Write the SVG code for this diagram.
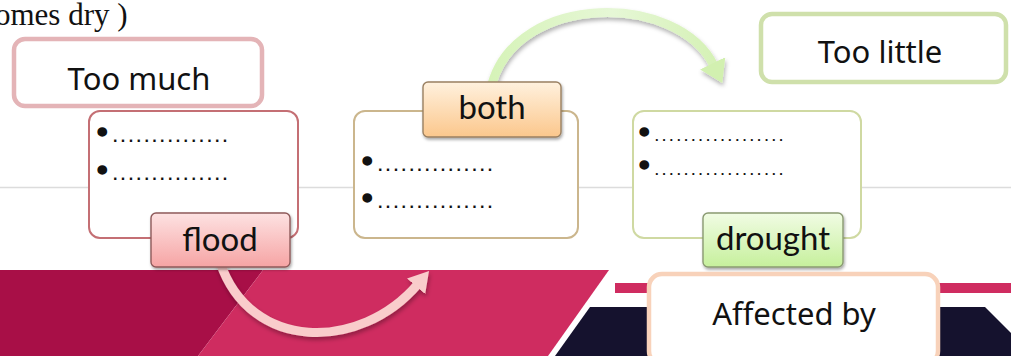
<svg xmlns="http://www.w3.org/2000/svg" width="1011" height="356" viewBox="0 0 1011 356">
<style>
.big{font-family:"Comic Sans MS","Noto Sans","DejaVu Sans",sans-serif;font-size:31px;fill:#111;text-anchor:middle}
.lab{font-family:Lato,"Open Sans","Liberation Sans",sans-serif;font-size:33px;fill:#111;text-anchor:middle}
.line{font-family:"Liberation Sans",Arial,sans-serif;fill:#111;font-size:16px}
.bul{font-size:30px;stroke:#111;stroke-width:1.6px}
.dots{font-size:16px;font-weight:bold;letter-spacing:3.4px}
.dots2{font-size:13px;font-weight:bold;letter-spacing:3.7px}
.card{fill:#fff;stroke-width:2}
.tag{stroke-width:1.4;filter:url(#sh)}
.title{fill:#fff;stroke-width:4.5}
</style>
<defs>
<filter id="sh" x="-20%" y="-20%" width="140%" height="160%"><feDropShadow dx="1" dy="2" stdDeviation="1.5" flood-color="#000" flood-opacity="0.35"/></filter>
<filter id="ash" x="-20%" y="-20%" width="140%" height="140%"><feDropShadow dx="1" dy="3" stdDeviation="2" flood-color="#000" flood-opacity="0.3"/></filter>
<linearGradient id="gFlood" x1="0" y1="0" x2="0" y2="1"><stop offset="0" stop-color="#fde2e2"/><stop offset="1" stop-color="#f6a4a4"/></linearGradient>
<linearGradient id="gBoth" x1="0" y1="0" x2="0" y2="1"><stop offset="0" stop-color="#fff1de"/><stop offset="1" stop-color="#fbc78c"/></linearGradient>
<linearGradient id="gDrought" x1="0" y1="0" x2="0" y2="1"><stop offset="0" stop-color="#f1fce4"/><stop offset="1" stop-color="#c6f09c"/></linearGradient>
<linearGradient id="gGreen" gradientUnits="userSpaceOnUse" x1="490" y1="0" x2="735" y2="0"><stop offset="0" stop-color="#d6f3b8"/><stop offset="0.5" stop-color="#e6f7d6"/><stop offset="1" stop-color="#d2f0b0"/></linearGradient>
<marker id="mGreen" markerUnits="userSpaceOnUse" viewBox="0 0 22 28" markerWidth="22" markerHeight="28" refX="3" refY="14" orient="auto"><path d="M0,0 L22,14 L0,28 z" fill="#d2f0b0"/></marker>
<marker id="mPink" markerUnits="userSpaceOnUse" viewBox="0 0 20 24" markerWidth="20" markerHeight="24" refX="3" refY="12" orient="auto"><path d="M0,0 L20,12 L0,24 z" fill="#f9cccb"/></marker>
</defs>
<rect width="1011" height="356" fill="#fff"/>
<line x1="0" y1="187.5" x2="1011" y2="187.5" stroke="#dcdcdc" stroke-width="1.5"/>
<g id="background-band">
<polygon points="0,270 263,270 198,356 0,356" fill="#a80f47"/>
<polygon points="263,270 609,270 548,356 198,356" fill="#cf2c60"/>
<polygon points="590,307 985,307 1011,333 1011,356 555,356" fill="#15122e"/>
<rect x="615" y="283" width="396" height="10" fill="#cf2c60"/>
</g>
<text x="-5" y="25" font-family="Liberation Serif,'Times New Roman',serif" font-size="31" fill="#111">omes dry )</text>
<g id="connectors">
<path d="M492,84 C518,-8 678,-8 714,66" fill="none" stroke="url(#gGreen)" stroke-width="9" marker-end="url(#mGreen)" filter="url(#ash)"/>
<path d="M220,262 C250,352 360,352 418,284" fill="none" stroke="#f9cccb" stroke-width="9" marker-end="url(#mPink)" filter="url(#ash)"/>
</g>
<g id="node-too-much">
<rect class="title" x="14" y="39" width="248" height="67" rx="11" stroke="#e4b4b7"/>
<text class="big" x="139" y="90">Too much</text>
</g>
<g id="node-too-little">
<rect class="title" x="761" y="14" width="245" height="68" rx="11" stroke="#cfe0ab"/>
<text class="big" x="880" y="63">Too little</text>
</g>
<g id="node-flood">
<rect class="card" x="89" y="111" width="209" height="127" rx="11" stroke="#c46f74"/>
<text class="line"><tspan class="bul" x="97" y="142">•</tspan><tspan class="dots" x="113" y="142">...............</tspan><tspan class="bul" x="97" y="180">•</tspan><tspan class="dots" x="113" y="180">...............</tspan></text>
<rect class="tag" x="151" y="213" width="139" height="54" rx="5" fill="url(#gFlood)" stroke="#8e5a5a"/>
<text class="lab" x="220" y="251">flood</text>
</g>
<g id="node-both">
<rect class="card" x="354" y="111" width="224" height="127" rx="11" stroke="#cbb68d"/>
<text class="line"><tspan class="bul" x="362" y="171">•</tspan><tspan class="dots" x="378" y="171">...............</tspan><tspan class="bul" x="362" y="208">•</tspan><tspan class="dots" x="378" y="208">...............</tspan></text>
<rect class="tag" x="423" y="82" width="138" height="55" rx="5" fill="url(#gBoth)" stroke="#9a8062"/>
<text class="lab" x="492" y="119">both</text>
</g>
<g id="node-drought">
<rect class="card" x="633" y="111" width="228" height="127" rx="11" stroke="#cfd9a2"/>
<text class="line"><tspan class="bul" x="639" y="142">•</tspan><tspan class="dots2" x="655" y="141">..................</tspan><tspan class="bul" x="639" y="175">•</tspan><tspan class="dots2" x="655" y="175">..................</tspan></text>
<rect class="tag" x="703" y="213" width="140" height="54" rx="5" fill="url(#gDrought)" stroke="#8a9a72"/>
<text class="lab" x="773" y="250">drought</text>
</g>
<g id="node-affected">
<rect class="title" x="649" y="274" width="289" height="90" rx="13" stroke="#f8d2ba" stroke-width="5"/>
<text class="big" x="794" y="325">Affected by</text>
</g>
</svg>
